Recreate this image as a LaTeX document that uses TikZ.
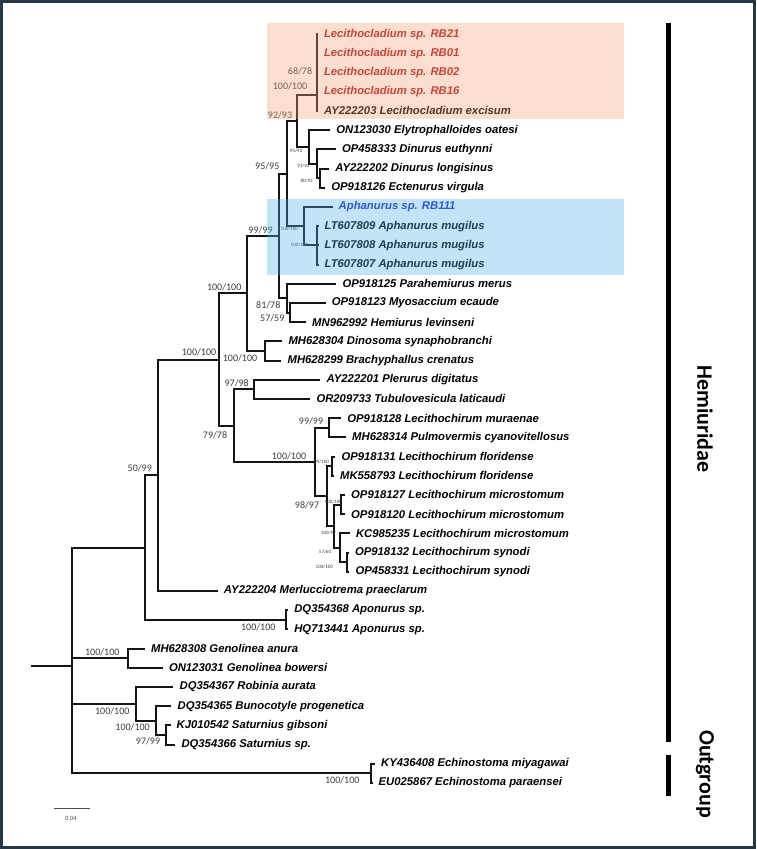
\documentclass[tikz,border=0pt]{standalone}
\usepackage{fontspec}
\setmainfont{Liberation Sans}
\newfontfamily\calib{Carlito}

\definecolor{branchcol}{RGB}{20,20,20}
\definecolor{supgray}{RGB}{60,60,60}
\definecolor{lecred}{RGB}{180,20,20}
\definecolor{aphblue}{RGB}{30,40,205}
\definecolor{salmonbox}{RGB}{241,161,121}
\definecolor{bluebox}{RGB}{84,178,229}
\definecolor{framecol}{RGB}{38,56,72}

\tikzstyle{edge} = [draw, line width=2pt, color=branchcol, line cap=rect]
\tikzstyle{taxon} = [anchor=west, inner xsep=7pt, inner ysep=1pt, font=\fontsize{11.3}{13}\selectfont\bfseries\itshape]
\tikzstyle{support} = [inner sep=0pt, text=supgray, font=\calib\fontsize{10}{12}\selectfont]
\tikzstyle{tiny} = [inner sep=0pt, text=supgray, font=\calib\fontsize{5}{6}\selectfont]
\tikzstyle{groupbar} = [draw, line width=4.7pt]
\tikzstyle{grouplabel} = [rotate=-90, inner sep=0pt, font=\calib\bfseries\fontsize{22}{26}\selectfont]

\begin{document}
\begin{tikzpicture}[x=1pt, y=-1pt]
    \useasboundingbox (0,0) rectangle (756,849);
    % inner nodes of the tree
    \foreach \x/\y/\name in {32.3/666/stub, 72.3/666/root, 144.6/547.5/ingrp, 158.1/475.2/merl,
        219.4/359.5/core, 247.3/293.4/hemA, 279.3/235.8/hemB, 287.3/173.5/hemC,
        296.7/121/leca, 317.3/95/lecb, 317.3/79.6/lecrb, 309/146.9/dina, 316.7/163.7/dinb,
        319.5/178.1/dinc, 304/226.1/apha, 317.3/245.3/amug, 287.3/298.1/para, 290/312.5/parb,
        264.7/350.9/dino, 234/425.6/lchA, 254.3/389.3/pler, 315/461.9/lchB, 329.3/427.7/lmur,
        326.5/496.1/lchC, 331.7/466.1/lflo, 333.5/526.1/lchD, 341/504.5/lmic, 339.5/547.7/lchE,
        346.5/562.1/lsyn, 285.7/619.7/apon, 127.5/658.1/geno, 136/703.7/robi, 156/720.5/buno,
        166/734.9/satu, 371.3/773.3/echi}
        \coordinate (\name) at (\x,\y);

    % tips, one row each
    \foreach \name/\x/\col/\txt [count=\i from 0] in {
        rb21/316.8/lecred/Lecithocladium sp. RB21,
        rb01/316.8/lecred/Lecithocladium sp. RB01,
        rb02/316.8/lecred/Lecithocladium sp. RB02,
        rb16/316.8/lecred/Lecithocladium sp. RB16,
        lexc/316.8/black/AY222203 Lecithocladium excisum,
        eoat/329.1/black/ON123030 Elytrophalloides oatesi,
        deut/334.9/black/OP458333 Dinurus euthynni,
        dlon/328.1/black/AY222202 Dinurus longisinus,
        evir/324.2/black/OP918126 Ectenurus virgula,
        rb111/331.5/aphblue/Aphanurus sp. RB111,
        amA/317.5/black/LT607809 Aphanurus mugilus,
        amB/317.5/black/LT607808 Aphanurus mugilus,
        amC/317.5/black/LT607807 Aphanurus mugilus,
        pmer/335.3/black/OP918125 Parahemiurus merus,
        meca/324.7/black/OP918123 Myosaccium ecaude,
        hlev/305/black/MN962992 Hemiurus levinseni,
        dsyn/281.3/black/MH628304 Dinosoma synaphobranchi,
        bcre/280.4/black/MH628299 Brachyphallus crenatus,
        pdig/319.4/black/AY222201 Plerurus digitatus,
        tlat/309.3/black/OR209733 Tubulovesicula laticaudi,
        lmuA/340.2/black/OP918128 Lecithochirum muraenae,
        pcya/345/black/MH628314 Pulmovermis cyanovitellosus,
        lflA/334.4/black/OP918131 Lecithochirum floridense,
        lflB/332.9/black/MK558793 Lecithochirum floridense,
        lmiA/344/black/OP918127 Lecithochirum microstomum,
        lmiB/344/black/OP918120 Lecithochirum microstomum,
        lmiC/348.8/black/KC985235 Lecithochirum microstomum,
        lsyA/347.9/black/OP918132 Lecithochirum synodi,
        lsyB/348.3/black/OP458331 Lecithochirum synodi,
        mpra/216.7/black/AY222204 Merlucciotrema praeclarum,
        apoA/287.1/black/DQ354368 Aponurus sp.,
        apoB/287.1/black/HQ713441 Aponurus sp.,
        gana/143.9/black/MH628308 Genolinea anura,
        gbow/161.8/black/ON123031 Genolinea bowersi,
        raur/172.4/black/DQ354367 Robinia aurata,
        bpro/170.4/black/DQ354365 Bunocotyle progenetica,
        sgib/169.5/black/KJ010542 Saturnius gibsoni,
        ssp/174.3/black/DQ354366 Saturnius sp.,
        emiy/373.9/black/KY436408 Echinostoma miyagawai,
        epar/371.5/black/EU025867 Echinostoma paraensei}
        \node[taxon, text=\col] (\name) at (\x,{34.1+19.2*\i}) {\txt};

    % branches
    \path[edge] (stub) -- (root);
    \foreach \source/\dest in {root/ingrp, root/geno, root/robi, root/echi,
        ingrp/merl, ingrp/apon, merl/core, merl/mpra, core/hemA, core/lchA,
        hemA/hemB, hemA/dino, hemB/hemC, hemB/para, hemC/leca, hemC/apha,
        leca/lecb, leca/dina, lecb/lecrb, lecb/lexc, lecrb/rb21, lecrb/rb01, lecrb/rb02, lecrb/rb16,
        dina/eoat, dina/dinb, dinb/deut, dinb/dinc, dinc/dlon, dinc/evir,
        apha/rb111, apha/amug, amug/amA, amug/amB, amug/amC,
        para/pmer, para/parb, parb/meca, parb/hlev, dino/dsyn, dino/bcre,
        lchA/pler, lchA/lchB, pler/pdig, pler/tlat, lchB/lmur, lchB/lchC,
        lmur/lmuA, lmur/pcya, lchC/lflo, lchC/lchD, lflo/lflA, lflo/lflB,
        lchD/lmic, lchD/lchE, lmic/lmiA, lmic/lmiB, lchE/lmiC, lchE/lsyn,
        lsyn/lsyA, lsyn/lsyB, apon/apoA, apon/apoB, geno/gana, geno/gbow,
        robi/raur, robi/buno, buno/bpro, buno/satu, satu/sgib, satu/ssp,
        echi/emiy, echi/epar}
        \path[edge] (\source) |- (\dest);

    % support values
    \foreach \x/\y/\val [count=\i] in {300/71.7/68\slash78, 290/86.7/100\slash100, 280/115.7/92\slash93,
        267.3/166.7/95\slash95, 260.5/230.5/99\slash99, 224.2/287/100\slash100, 268.3/305.7/81\slash78,
        272.3/318.3/57\slash59, 199/352.7/100\slash100, 240/358.4/100\slash100, 236.7/383.3/97\slash98,
        215/435/79\slash78, 311/421.7/99\slash99, 289/456/100\slash100, 307/505.5/98\slash97,
        139.8/468.3/50\slash99, 258.3/627/100\slash100, 102.3/652.6/100\slash100,
        112.3/711.4/100\slash100, 132.6/727/100\slash100, 148/741/97\slash99, 342.3/780.2/100\slash100}
        \node[support] (sup\i) at (\x,\y) {\val};
    \foreach \x/\y/\val [count=\i] in {296/150.7/95\slash93, 303.3/166/91\slash92, 306.7/180.7/80\slash92,
        289.3/229.3/100\slash100, 299.3/245/100\slash100, 321.7/461.7/99\slash100,
        333.3/501.7/100\slash100, 328.3/533.3/100\slash99, 325/551.7/57\slash60, 324.3/566.7/100\slash100}
        \node[tiny] (tsup\i) at (\x,\y) {\val};

    % scale bar
    \coordinate (sbl) at (54.3,808.3);
    \coordinate (sbr) at (90,808.3);
    \path[draw, line width=0.9pt, color=black!70] (sbl) -- (sbr);
    \node[inner sep=0pt, text=black!70, font=\calib\fontsize{6.5}{8}\selectfont] (sblab) at (71,818.3) {0.04};

    % groups
    \coordinate (hemtop) at (668.3,22.7);
    \coordinate (hembot) at (668.3,741.7);
    \coordinate (outtop) at (668.3,755.3);
    \coordinate (outbot) at (668.3,795.9);
    \path[groupbar] (hemtop) -- (hembot);
    \path[groupbar] (outtop) -- (outbot);
    \node[grouplabel] (hemlab) at (705,419) {Hemiuridae};
    \node[grouplabel] (outlab) at (705,774) {Outgroup};

    % highlight boxes
    \fill[salmonbox, fill opacity=0.35] (266.7,22.7) rectangle (624.3,118.5);
    \fill[bluebox, fill opacity=0.35] (266.7,199.3) rectangle (624.3,275);

    % frame
    \draw[line width=3pt, framecol] (1.5,1.5) rectangle (754.5,847.5);
\end{tikzpicture}
\end{document}
